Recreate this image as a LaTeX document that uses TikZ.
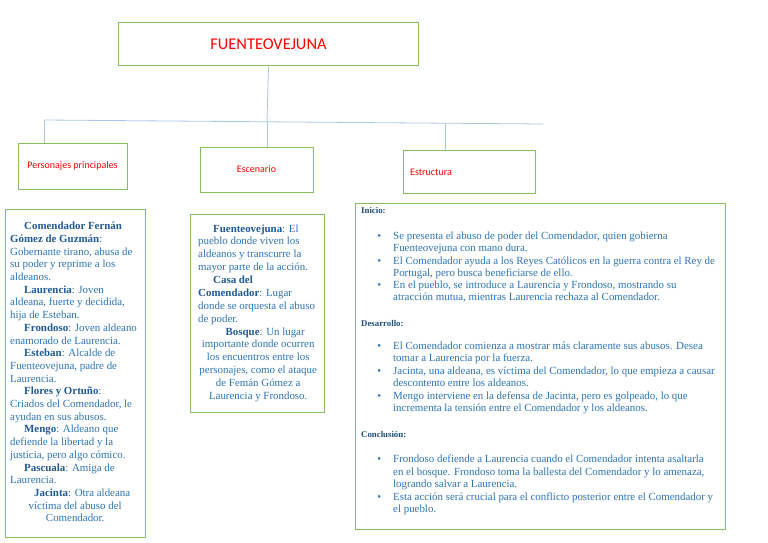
\documentclass[tikz,border=0pt]{standalone}
\usepackage{fontspec}
\setmainfont{Liberation Serif}
\newfontfamily\labelfont{Carlito}
\definecolor{txtblue}{RGB}{46,117,182}
\definecolor{boldblue}{RGB}{33,90,150}
\definecolor{hdrblue}{RGB}{31,78,121}
\definecolor{boxgreen}{RGB}{132,190,96}
\definecolor{linkblue}{RGB}{168,200,232}
\definecolor{titlered}{RGB}{255,0,0}
\newcommand{\bname}[1]{\textbf{\color{boldblue}#1}}
\newcommand{\bul}{\llap{\textbullet\hspace{12pt}}}
\tikzset{
  greenbox/.style={draw=boxgreen, line width=1pt, inner sep=0pt},
  link/.style={draw=linkblue, line width=0.8pt},
  labeltxt/.style={inner sep=0pt, text=titlered, font=\labelfont\fontsize{10}{12}\selectfont},
  bodyL/.style={inner sep=0pt, anchor=north west, align=left, text=txtblue, font=\fontsize{10.9}{12.7}\selectfont},
  bodyM/.style={inner sep=0pt, anchor=north west, align=left, text=txtblue, font=\fontsize{10.9}{12.88}\selectfont},
  bodyR/.style={inner sep=0pt, anchor=north west, align=left, text=txtblue, font=\fontsize{10.9}{12.4}\selectfont},
  hdr/.style={inner sep=0pt, anchor=north west, text=hdrblue, font=\bfseries\fontsize{8.8}{10}\selectfont},
}
\begin{document}
\begin{tikzpicture}[x=1pt,y=-1pt]
\useasboundingbox[fill=white] (0,0) rectangle (768,543);

% title
\node[greenbox, minimum width=300pt, minimum height=43pt] (title) at (268.5,44.5)
  {\labelfont\fontsize{16.4}{18}\selectfont\color{titlered}FUENTEOVEJUNA};

% second-level boxes
\node[greenbox, minimum width=109pt, minimum height=46pt] (pers) at (72.5,166) {};
\node[labeltxt] (perst) at (pers.center) {Personajes principales};
\node[greenbox, minimum width=113pt, minimum height=45pt] (esc) at (256.5,169.5) {};
\node[labeltxt] (esct) at (esc.center) {Escenario};
\node[greenbox, minimum width=132pt, minimum height=43pt] (est) at (469,171.5) {};
\node[labeltxt, anchor=west] (estt) at (410,172) {Estructura};

% connectors
\coordinate (hL) at (44,120);
\coordinate (hM) at (267,122);
\coordinate (hE) at (445,123);
\coordinate (hR) at (543,124);
\draw[link] (title.south) -- (hM);
\draw[link] (hL) -- (hR);
\draw[link] (hL) -- (pers.north -| hL);
\draw[link] (hM) -- (esc.north -| hM);
\draw[link] (hE) -- (est.north -| hE);

% bottom boxes
\node[greenbox, anchor=north west, minimum width=140pt, minimum height=328pt] (pbox) at (5,209) {};
\node[greenbox, anchor=north west, minimum width=134pt, minimum height=198pt] (mbox) at (190,214) {};
\node[greenbox, anchor=north west, minimum width=370pt, minimum height=326pt] (ebox) at (355,203) {};

% left box text
\node[bodyL] (ptext) at (10,222) {%
\hspace*{14pt}\bname{Comendador Fernán}\\
\bname{Gómez de Guzmán}:\\
Gobernante tirano, abusa de\\
su poder y reprime a los\\
aldeanos.\\
\hspace*{14pt}\bname{Laurencia}: Joven\\
aldeana, fuerte y decidida,\\
hija de Esteban.\\
\hspace*{14pt}\bname{Frondoso}: Joven aldeano\\
enamorado de Laurencia.\\
\hspace*{14pt}\bname{Esteban}: Alcalde de\\
Fuenteovejuna, padre de\\
Laurencia.\\
\hspace*{14pt}\bname{Flores y Ortuño}:\\
Criados del Comendador, le\\
ayudan en sus abusos.\\
\hspace*{14pt}\bname{Mengo}: Aldeano que\\
defiende la libertad y la\\
justicia, pero algo cómico.\\
\hspace*{14pt}\bname{Pascuala}: Amiga de\\
Laurencia.\\
\makebox[130pt][c]{\hspace*{14pt}\bname{Jacinta}: Otra aldeana}\\
\makebox[130pt][c]{víctima del abuso del}\\
\makebox[130pt][c]{Comendador.}};

% middle box text
\node[bodyM] (mtext) at (198,224.3) {%
\hspace*{15pt}\bname{Fuenteovejuna}: El\\
pueblo donde viven los\\
aldeanos y transcurre la\\
mayor parte de la acción.\\
\hspace*{15pt}\bname{Casa del}\\
\bname{Comendador}: Lugar\\
donde se orquesta el abuso\\
de poder.\\
\makebox[120pt][c]{\hspace*{14pt}\bname{Bosque}: Un lugar}\\
\makebox[120pt][c]{importante donde ocurren}\\
\makebox[120pt][c]{los encuentros entre los}\\
\makebox[120pt][c]{personajes, como el ataque}\\
\makebox[120pt][c]{de Femán Gómez a}\\
\makebox[120pt][c]{Laurencia y Frondoso.}};

% right box text
\node[hdr] (h1) at (361,207.2) {Inicio:};
\node[bodyR] (i1) at (393,231.7) {\bul Se presenta el abuso de poder del Comendador, quien gobierna\\Fuenteovejuna con mano dura.};
\node[bodyR] (i2) at (393,256.7) {\bul El Comendador ayuda a los Reyes Católicos en la guerra contra el Rey de\\Portugal, pero busca beneficiarse de ello.};
\node[bodyR] (i3) at (393,280.7) {\bul En el pueblo, se introduce a Laurencia y Frondoso, mostrando su\\atracción mutua, mientras Laurencia rechaza al Comendador.};

\node[hdr] (h2) at (361,320.2) {Desarrollo:};
\node[bodyR] (d1) at (393,341.7) {\bul El Comendador comienza a mostrar más claramente sus abusos. Desea\\tomar a Laurencia por la fuerza.};
\node[bodyR] (d2) at (393,366.7) {\bul Jacinta, una aldeana, es víctima del Comendador, lo que empieza a causar\\descontento entre los aldeanos.};
\node[bodyR] (d3) at (393,391.7) {\bul Mengo interviene en la defensa de Jacinta, pero es golpeado, lo que\\incrementa la tensión entre el Comendador y los aldeanos.};

\node[hdr] (h3) at (361,431.2) {Conclusión:};
\node[bodyR] (c1) at (393,455) {\bul Frondoso defiende a Laurencia cuando el Comendador intenta asaltarla\\en el bosque. Frondoso toma la ballesta del Comendador y lo amenaza,\\logrando salvar a Laurencia.};
\node[bodyR] (c2) at (393,492.7) {\bul Esta acción será crucial para el conflicto posterior entre el Comendador y\\el pueblo.};
\end{tikzpicture}
\end{document}
